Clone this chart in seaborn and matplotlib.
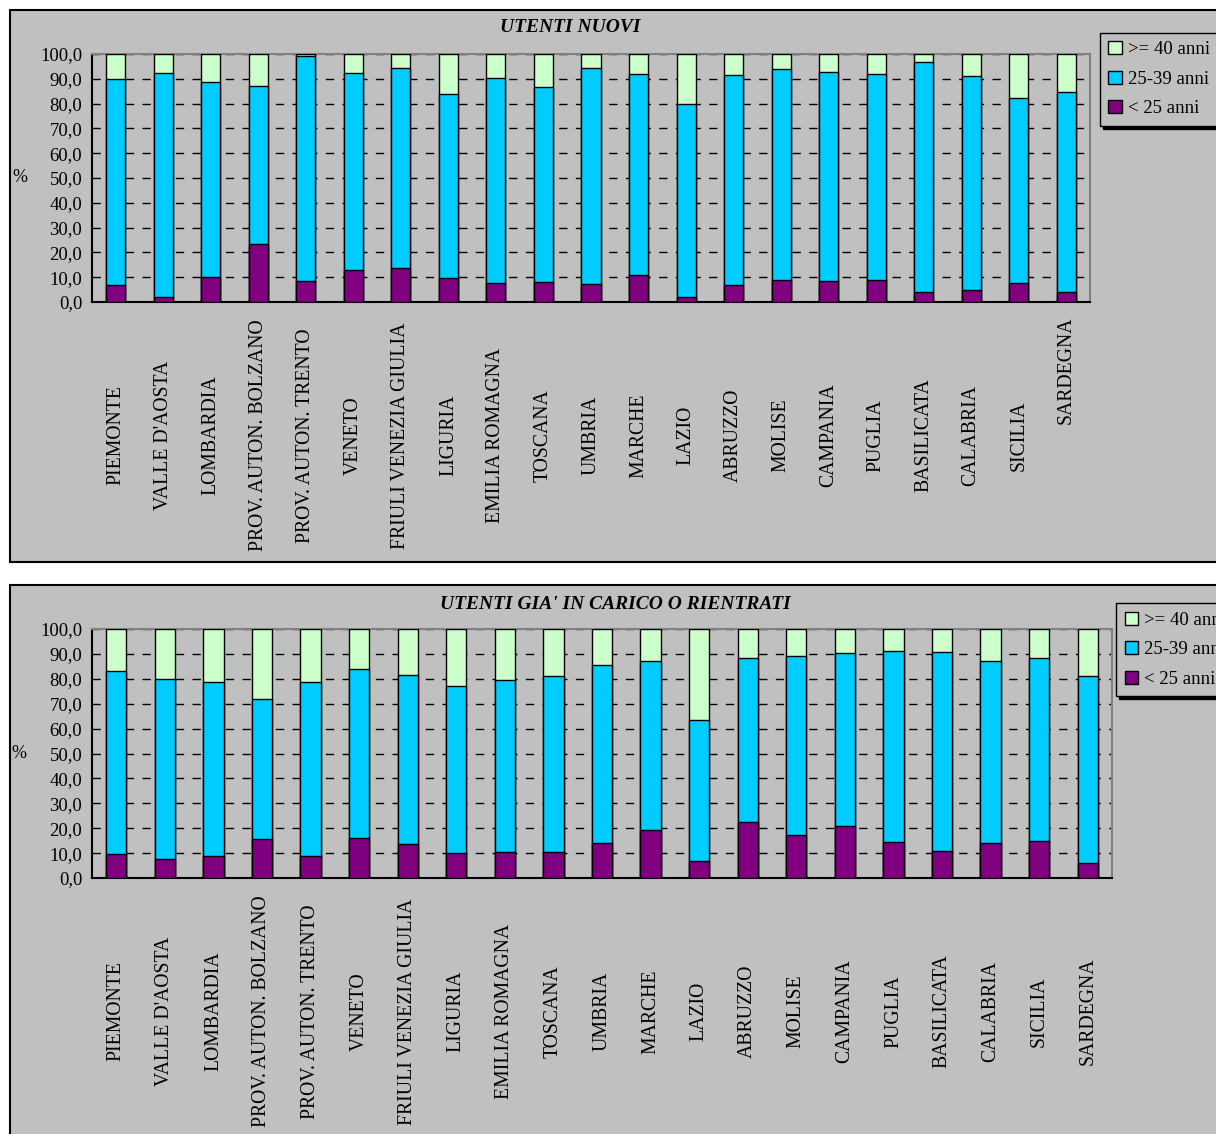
import matplotlib
matplotlib.use("Agg")

import matplotlib.pyplot as plt
import matplotlib.transforms as mtransforms
from matplotlib.patches import Rectangle
import numpy as np
import pandas as pd
import seaborn as sns

# regions (same order in both panels)
REGIONS = [
    "PIEMONTE",
    "VALLE D'AOSTA",
    "LOMBARDIA",
    "PROV. AUTON. BOLZANO",
    "PROV. AUTON. TRENTO",
    "VENETO",
    "FRIULI VENEZIA GIULIA",
    "LIGURIA",
    "EMILIA ROMAGNA",
    "TOSCANA",
    "UMBRIA",
    "MARCHE",
    "LAZIO",
    "ABRUZZO",
    "MOLISE",
    "CAMPANIA",
    "PUGLIA",
    "BASILICATA",
    "CALABRIA",
    "SICILIA",
    "SARDEGNA",
]

AGE_LABELS = ["< 25 anni", "25-39 anni", ">= 40 anni"]

# UTENTI NUOVI (% per age class)
new_under25 = [6.8, 2.1, 10.1, 23.5, 8.5, 12.8, 13.7, 9.5, 7.5, 7.9, 7.2,
               11.0, 2.1, 6.7, 9.0, 8.3, 9.0, 4.2, 4.8, 7.8, 4.2]
new_25_39 = [83.0, 90.4, 78.6, 63.6, 90.7, 79.5, 80.7, 74.4, 82.8, 78.7, 87.0,
             80.8, 77.8, 85.0, 85.0, 84.6, 82.8, 92.7, 86.5, 74.6, 80.4]
new_over40 = [10.2, 7.5, 11.3, 12.9, 0.8, 7.7, 5.6, 16.1, 9.7, 13.4, 5.8,
              8.2, 20.1, 8.3, 6.0, 7.1, 8.2, 3.1, 8.7, 17.6, 15.4]

# UTENTI GIA' IN CARICO O RIENTRATI (% per age class)
old_under25 = [9.5, 7.8, 9.0, 15.6, 9.0, 16.2, 13.6, 10.0, 10.4, 10.4, 14.0,
               19.3, 6.7, 22.3, 17.2, 20.9, 14.6, 11.0, 14.0, 15.0, 5.9]
old_25_39 = [73.7, 72.3, 69.9, 56.1, 69.9, 67.9, 68.0, 67.0, 69.1, 70.7, 71.6,
             67.9, 56.7, 66.1, 72.1, 69.5, 76.7, 79.8, 73.2, 73.4, 75.1]
old_over40 = [16.8, 19.9, 21.1, 28.3, 21.1, 15.9, 18.4, 23.0, 20.5, 18.9, 14.4,
              12.8, 36.6, 11.6, 10.7, 9.6, 8.7, 9.2, 12.8, 11.6, 19.0]

Y_TICKS = [0, 10, 20, 30, 40, 50, 60, 70, 80, 90, 100]

# excel-ish palette
BG = "#C0C0C0"
COLORS = {"< 25 anni": "#800080", "25-39 anni": "#00CCFF", ">= 40 anni": "#CCFFCC"}

sns.set_theme(style="white")
plt.rcParams["font.family"] = ["Liberation Serif", "DejaVu Serif"]
plt.rcParams.update({
    "text.color": "black",
    "axes.labelcolor": "black",
    "xtick.color": "black",
    "ytick.color": "black",
})

fig = plt.figure(figsize=(12.16, 11.34), dpi=100)
fig.patch.set_facecolor("white")

# grey chart areas behind the two plots (right/bottom edges run off the page)
fig.add_artist(Rectangle((10 / 1216, 1 - 562 / 1134), 1.1, 552 / 1134,
                         transform=fig.transFigure, facecolor=BG,
                         edgecolor="black", linewidth=1.5, zorder=-1))
fig.add_artist(Rectangle((10 / 1216, -0.1), 1.1, 0.1 + 1 - 585 / 1134,
                         transform=fig.transFigure, facecolor=BG,
                         edgecolor="black", linewidth=1.5, zorder=-1))

ax_top = fig.add_axes([92 / 1216, 1 - 302 / 1134, 998 / 1216, 248 / 1134])
ax_bot = fig.add_axes([92 / 1216, 1 - 878 / 1134, 1020 / 1216, 249 / 1134])


def stacked(ax, under25, mid, over40, title, title_x, title_y, bar_width, legend_anchor):
    df = pd.DataFrame(
        {"region": REGIONS, "< 25 anni": under25, "25-39 anni": mid, ">= 40 anni": over40}
    )
    # cumulative tops, drawn from the tallest down so each layer covers the previous
    df["top_mid"] = df["< 25 anni"] + df["25-39 anni"]
    df["top_all"] = df["top_mid"] + df[">= 40 anni"]
    layers = [("top_all", ">= 40 anni"), ("top_mid", "25-39 anni"), ("< 25 anni", "< 25 anni")]
    for col, lab in layers:
        sns.barplot(
            data=df, x="region", y=col, color=COLORS[lab], saturation=1,
            width=bar_width, edgecolor="black", linewidth=1.0, label=lab,
            errorbar=None, ax=ax, zorder=3,
        )

    ax.set_facecolor(BG)
    ax.set_xlim(-0.5, len(REGIONS) - 0.5)
    ax.set_ylim(0, 100)
    ax.set_yticks(Y_TICKS)
    ax.set_yticklabels([f"{v:.1f}".replace(".", ",") for v in Y_TICKS], fontsize=13.5)
    ax.set_xlabel("")
    ax.set_ylabel("%", rotation=0, fontsize=13, va="center", ha="center")
    ax.yaxis.set_label_coords(-0.072, 0.5)

    ax.set_xticks(np.arange(len(REGIONS)))
    ax.set_xticklabels(REGIONS, rotation=90, va="center", ha="center", fontsize=14.2)
    ax.tick_params(axis="x", length=0, pad=96)
    ax.tick_params(axis="y", length=5, width=1, color="black", direction="out", pad=2)

    ax.yaxis.grid(True, color="black", linestyle=(0, (6, 6)), linewidth=1)
    ax.xaxis.grid(False)
    ax.set_axisbelow(True)

    for side in ("left", "bottom"):
        ax.spines[side].set_color("black")
        ax.spines[side].set_linewidth(1.5)
    for side in ("top", "right"):
        ax.spines[side].set_color("#808080")
        ax.spines[side].set_linewidth(1.5)

    ax.set_title(title, x=title_x, y=title_y, pad=0, fontsize=14, fontweight="bold",
                 fontstyle="italic", va="center")

    leg = ax.legend(
        loc="upper left", bbox_to_anchor=legend_anchor, borderaxespad=0,
        fontsize=13.5, frameon=True, fancybox=False, facecolor=BG, framealpha=1,
        edgecolor="black", handlelength=0.7, handleheight=0.7, handletextpad=0.35,
        labelspacing=0.66, borderpad=0.45, shadow={"color": "black", "alpha": 1},
    )
    leg.get_frame().set_linewidth(1.0)
    for h in leg.legend_handles:
        h.set_edgecolor("black")
        h.set_linewidth(1.0)


stacked(ax_top, new_under25, new_25_39, new_over40, "UTENTI NUOVI",
        0.479, 1.105, 0.40, (1.010, 1.085))
stacked(ax_bot, old_under25, old_25_39, old_over40,
        "UTENTI GIA' IN CARICO O RIENTRATI", 0.513, 1.10, 0.42, (1.004, 1.104))

# in the original, SARDEGNA sits higher than the other labels in the top chart
lbl = ax_top.get_xticklabels()[-1]
lbl.set_transform(lbl.get_transform()
                  + mtransforms.ScaledTranslation(0, 0.65, fig.dpi_scale_trans))

fig.savefig("out.png", dpi=100, facecolor=fig.get_facecolor())
